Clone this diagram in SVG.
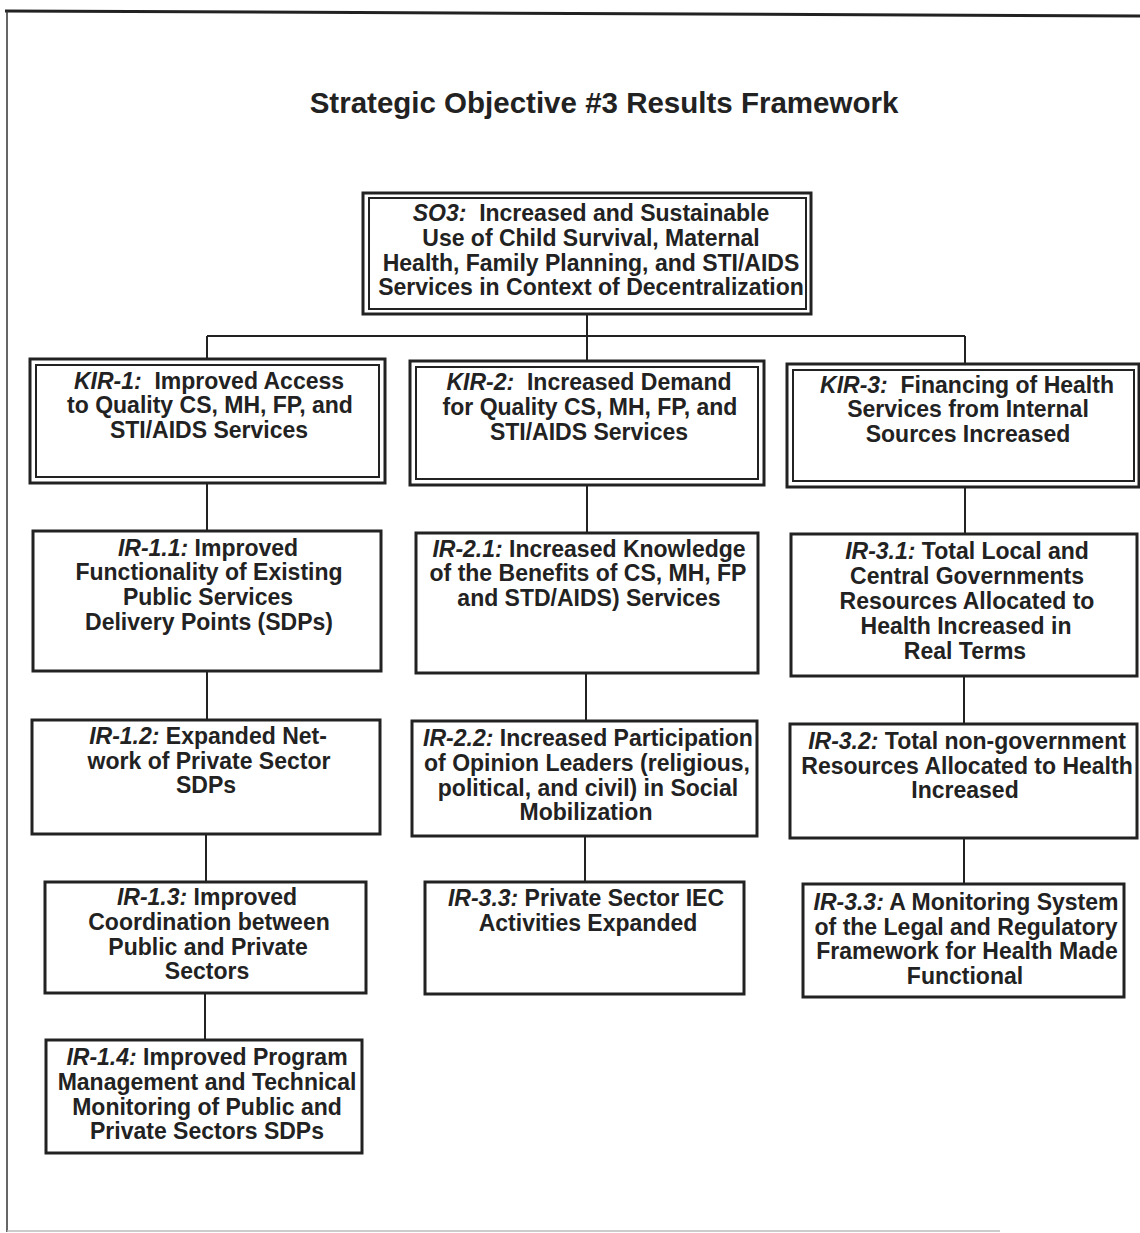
<svg xmlns="http://www.w3.org/2000/svg" width="1140" height="1233" viewBox="0 0 1140 1233">
<style>
  .t { font-family: "Liberation Sans", Arial, sans-serif; font-size: 23px; font-weight: bold; fill: #222; text-anchor: middle; }
  .i { font-style: italic; font-weight: bold; }
  .box { fill: #fff; stroke: #222; stroke-width: 3; }
  .inner { fill: none; stroke: #222; stroke-width: 2; }
  .con { stroke: #222; stroke-width: 2; fill: none; }
</style>
<rect x="0" y="0" width="1140" height="1233" fill="#fff"/>
<g id="frame">
  <line x1="5" y1="11" x2="1140" y2="16" stroke="#222" stroke-width="3"/>
  <line x1="7" y1="11" x2="7" y2="1232" stroke="#333" stroke-width="1.5"/>
  <line x1="7" y1="1231" x2="1000" y2="1231" stroke="#bbb" stroke-width="1.5"/>
</g>
<text id="title" x="604" y="113" class="t" style="font-size:29.5px">Strategic Objective #3 Results Framework</text>

<g id="connectors">
  <line class="con" x1="587" y1="314" x2="587" y2="336"/>
  <line class="con" x1="207" y1="336" x2="965" y2="336"/>
  <line class="con" x1="207" y1="336" x2="207" y2="359"/>
  <line class="con" x1="587" y1="336" x2="587" y2="361"/>
  <line class="con" x1="965" y1="336" x2="965" y2="364"/>
  <line class="con" x1="207" y1="483" x2="207" y2="531"/>
  <line class="con" x1="207" y1="671" x2="207" y2="720"/>
  <line class="con" x1="206" y1="834" x2="206" y2="882"/>
  <line class="con" x1="205" y1="993" x2="205" y2="1040"/>
  <line class="con" x1="587" y1="485" x2="587" y2="533"/>
  <line class="con" x1="586" y1="673" x2="586" y2="721"/>
  <line class="con" x1="585" y1="836" x2="585" y2="882"/>
  <line class="con" x1="965" y1="487" x2="965" y2="534"/>
  <line class="con" x1="964" y1="676" x2="964" y2="724"/>
  <line class="con" x1="964" y1="838" x2="964" y2="884"/>
</g>

<g id="so3">
  <rect class="box" x="363" y="193" width="448" height="121"/>
  <rect class="inner" x="369" y="198" width="437" height="111"/>
  <text class="t" x="591" y="221"><tspan class="i">SO3:</tspan>&#160; Increased and Sustainable</text>
  <text class="t" x="591" y="246">Use of Child Survival, Maternal</text>
  <text class="t" x="591" y="271">Health, Family Planning, and STI/AIDS</text>
  <text class="t" x="591" y="295">Services in Context of Decentralization</text>
</g>

<g id="kir1">
  <rect class="box" x="30" y="359" width="355" height="124"/>
  <rect class="inner" x="36" y="365" width="343" height="112"/>
  <text class="t" x="209" y="389"><tspan class="i">KIR-1:</tspan>&#160; Improved Access</text>
  <text class="t" x="210" y="413">to Quality CS, MH, FP, and</text>
  <text class="t" x="209" y="438">STI/AIDS Services</text>
</g>

<g id="kir2">
  <rect class="box" x="410" y="361" width="354" height="124"/>
  <rect class="inner" x="416" y="367" width="342" height="112"/>
  <text class="t" x="589" y="390"><tspan class="i">KIR-2:</tspan>&#160; Increased Demand</text>
  <text class="t" x="590" y="415">for Quality CS, MH, FP, and</text>
  <text class="t" x="589" y="440">STI/AIDS Services</text>
</g>

<g id="kir3">
  <rect class="box" x="787" y="364" width="352" height="123"/>
  <rect class="inner" x="793" y="370" width="341" height="111"/>
  <text class="t" x="967" y="393"><tspan class="i">KIR-3:</tspan>&#160; Financing of Health</text>
  <text class="t" x="968" y="417">Services from Internal</text>
  <text class="t" x="968" y="442">Sources Increased</text>
</g>

<g id="ir11">
  <rect class="box" x="33" y="531" width="348" height="140"/>
  <text class="t" x="208" y="556"><tspan class="i">IR-1.1:</tspan> Improved</text>
  <text class="t" x="209" y="580">Functionality of Existing</text>
  <text class="t" x="208" y="605">Public Services</text>
  <text class="t" x="209" y="630">Delivery Points (SDPs)</text>
</g>

<g id="ir12">
  <rect class="box" x="32" y="720" width="348" height="114"/>
  <text class="t" x="208" y="744"><tspan class="i">IR-1.2:</tspan> Expanded Net-</text>
  <text class="t" x="209" y="769">work of Private Sector</text>
  <text class="t" x="206" y="793">SDPs</text>
</g>

<g id="ir13">
  <rect class="box" x="45" y="882" width="321" height="111"/>
  <text class="t" x="207" y="905"><tspan class="i">IR-1.3:</tspan> Improved</text>
  <text class="t" x="209" y="930">Coordination between</text>
  <text class="t" x="208" y="955">Public and Private</text>
  <text class="t" x="207" y="979">Sectors</text>
</g>

<g id="ir14">
  <rect class="box" x="46" y="1040" width="316" height="113"/>
  <text class="t" x="207" y="1065"><tspan class="i">IR-1.4:</tspan> Improved Program</text>
  <text class="t" x="207" y="1090">Management and Technical</text>
  <text class="t" x="207" y="1115">Monitoring of Public and</text>
  <text class="t" x="207" y="1139">Private Sectors SDPs</text>
</g>

<g id="ir21">
  <rect class="box" x="416" y="533" width="342" height="140"/>
  <text class="t" x="589" y="557"><tspan class="i">IR-2.1:</tspan> Increased Knowledge</text>
  <text class="t" x="588" y="581">of the Benefits of CS, MH, FP</text>
  <text class="t" x="589" y="606">and STD/AIDS) Services</text>
</g>

<g id="ir22">
  <rect class="box" x="412" y="721" width="345" height="115"/>
  <text class="t" x="588" y="746"><tspan class="i">IR-2.2:</tspan> Increased Participation</text>
  <text class="t" x="587" y="771">of Opinion Leaders (religious,</text>
  <text class="t" x="588" y="796">political, and civil) in Social</text>
  <text class="t" x="586" y="820">Mobilization</text>
</g>

<g id="ir33m">
  <rect class="box" x="425" y="882" width="319" height="112"/>
  <text class="t" x="586" y="906"><tspan class="i">IR-3.3:</tspan> Private Sector IEC</text>
  <text class="t" x="588" y="931">Activities Expanded</text>
</g>

<g id="ir31">
  <rect class="box" x="791" y="534" width="346" height="142"/>
  <text class="t" x="967" y="559"><tspan class="i">IR-3.1:</tspan> Total Local and</text>
  <text class="t" x="967" y="584">Central Governments</text>
  <text class="t" x="967" y="609">Resources Allocated to</text>
  <text class="t" x="966" y="634">Health Increased in</text>
  <text class="t" x="965" y="659">Real Terms</text>
</g>

<g id="ir32">
  <rect class="box" x="790" y="724" width="347" height="114"/>
  <text class="t" x="967" y="749"><tspan class="i">IR-3.2:</tspan> Total non-government</text>
  <text class="t" x="967" y="774">Resources Allocated to Health</text>
  <text class="t" x="965" y="798">Increased</text>
</g>

<g id="ir33r">
  <rect class="box" x="803" y="884" width="321" height="113"/>
  <text class="t" x="966" y="910"><tspan class="i">IR-3.3:</tspan> A Monitoring System</text>
  <text class="t" x="966" y="935">of the Legal and Regulatory</text>
  <text class="t" x="967" y="959">Framework for Health Made</text>
  <text class="t" x="965" y="984">Functional</text>
</g>
</svg>
